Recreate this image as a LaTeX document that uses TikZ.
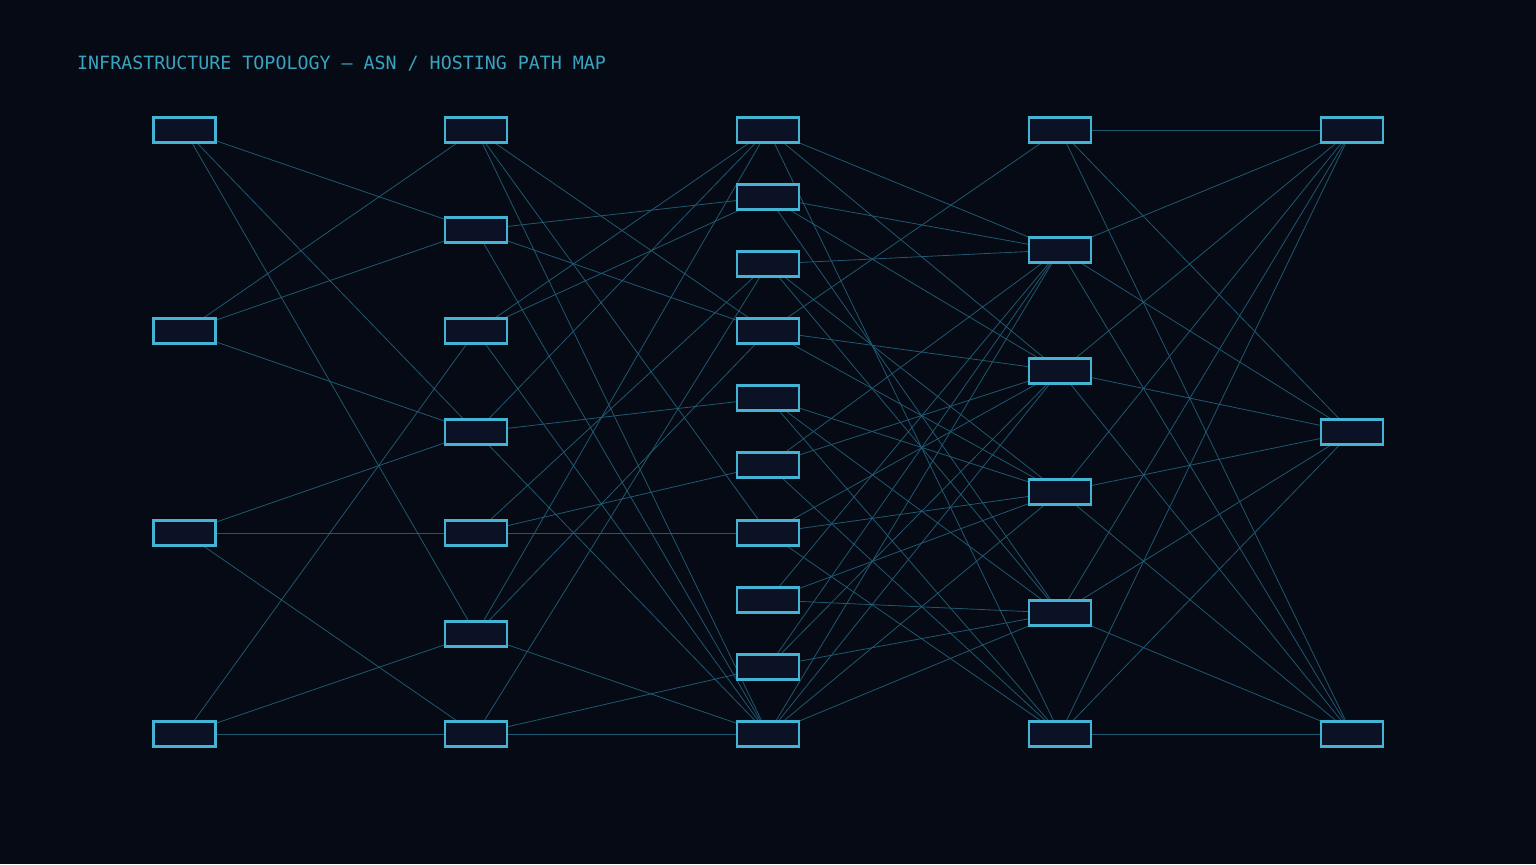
\documentclass[tikz,border=0pt]{standalone}
\usepackage{fontspec}
\newfontfamily\monofont{DejaVu Sans Mono}
\definecolor{bgcol}{HTML}{050A14}
\definecolor{boxfill}{HTML}{0B1226}
\definecolor{boxline}{HTML}{45B4D4}
\definecolor{edgecol}{HTML}{22617A}
\definecolor{titlecol}{HTML}{3AA3BF}
\pgfdeclarelayer{bglayer}
\pgfdeclarelayer{edgelayer}
\pgfsetlayers{bglayer,edgelayer,main}
\tikzset{
  hostbox/.style={draw=boxline, fill=boxfill, line width=2.2bp, rectangle, minimum width=62bp, minimum height=25bp, inner sep=0pt},
  link/.style={draw=edgecol, line width=0.8bp, opacity=0.9},
  titletext/.style={text=titlecol, anchor=base west, inner sep=0pt, font=\monofont\fontsize{18.3bp}{20bp}\selectfont}
}
\begin{document}
\begin{tikzpicture}[x=1bp,y=-1bp]
\begin{pgfonlayer}{bglayer}
\fill[bgcol] (0,0) rectangle (1536,864);
\end{pgfonlayer}
\useasboundingbox (0,0) rectangle (1536,864);
\node[titletext] (title) at (77,69) {INFRASTRUCTURE TOPOLOGY — ASN / HOSTING PATH MAP};
% column 1
\foreach \n/\y in {1/130,2/331,3/533,4/734} \node[hostbox] (A\n) at (184.5,\y) {};
% column 2
\foreach \n/\y in {1/130,2/230,3/331,4/432,5/533,6/634,7/734} \node[hostbox] (B\n) at (476,\y) {};
% column 3
\foreach \n/\y in {1/130,2/197,3/264,4/331,5/398,6/465,7/533,8/600,9/667,10/734} \node[hostbox] (C\n) at (768,\y) {};
% column 4
\foreach \n/\y in {1/130,2/250,3/371,4/492,5/613,6/734} \node[hostbox] (D\n) at (1060,\y) {};
% column 5
\foreach \n/\y in {1/130,2/432,3/734} \node[hostbox] (E\n) at (1352,\y) {};
\begin{pgfonlayer}{edgelayer}
% layer 1 -> 2
\foreach \s/\t in {A1/B2,A1/B4,A1/B6,A2/B1,A2/B2,A2/B4,A3/B4,A3/B5,A3/B7,A4/B3,A4/B6,A4/B7}
  \draw[link] (\s.center) -- (\t.center);
% layer 2 -> 3
\foreach \s/\t in {B1/C4,B1/C7,B1/C10,B2/C2,B2/C4,B2/C10,B3/C1,B3/C2,B3/C10,B4/C1,B4/C5,B4/C10,B5/C3,B5/C6,B5/C7,B6/C1,B6/C4,B6/C10,B7/C3,B7/C9,B7/C10}
  \draw[link] (\s.center) -- (\t.center);
% layer 3 -> 4
\foreach \s/\t in {C1/D2,C1/D3,C1/D6,C2/D2,C2/D3,C2/D5,C3/D2,C3/D4,C3/D5,C4/D1,C4/D3,C4/D4,C5/D4,C5/D5,C5/D6,C6/D2,C6/D3,C6/D6,C7/D3,C7/D4,C7/D6,C8/D2,C8/D4,C8/D5,C9/D2,C9/D3,C9/D5,C10/D2,C10/D3,C10/D4,C10/D5}
  \draw[link] (\s.center) -- (\t.center);
% layer 4 -> 5
\foreach \s in {D1,D2,D3,D4,D5,D6}
  \foreach \t in {E1,E2,E3}
    \draw[link] (\s.center) -- (\t.center);
\end{pgfonlayer}
\end{tikzpicture}
\end{document}
